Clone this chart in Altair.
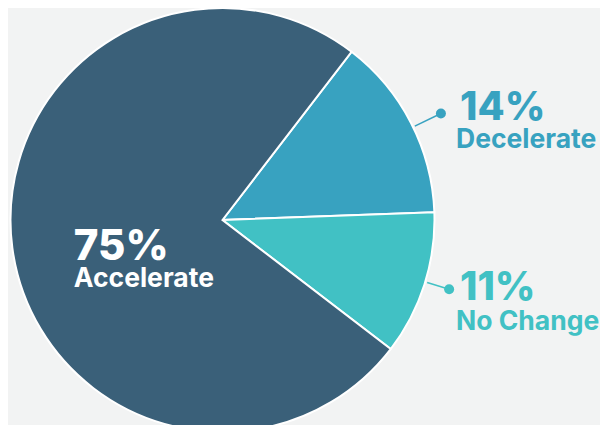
import math
import altair as alt
import pandas as pd

# ---- data ----
categories = ["Decelerate", "No Change", "Accelerate"]
values = [14, 11, 75]
pct_labels = ["14%", "11%", "75%"]
colors = ["#38a2c0", "#41c1c4", "#3a6079"]

# ---- geometry (chart-pixel space) ----
W, H = 592, 417
CX, CY, R = 214.5, 212, 212
START_DEG = 37.5
start = math.radians(START_DEG)

def polar(angle_deg, r):
    a = math.radians(angle_deg)
    return CX + r * math.sin(a), CY - r * math.cos(a)

total = sum(values)
cum = 0
mids = []
for v in values:
    mids.append(START_DEG + (cum + v / 2) / total * 360)
    cum += v

pie_df = pd.DataFrame({"cat": categories, "value": values, "ord": list(range(len(values)))})

xs = alt.Scale(domain=[0, W], range=[0, W])
ys = alt.Scale(domain=[0, H], range=[0, H])

pie = alt.Chart(pie_df).mark_arc(radius=R, stroke="white", strokeWidth=2).encode(
    theta=alt.Theta("value:Q", stack=True, scale=alt.Scale(range=[start, start + 2 * math.pi])),
    order=alt.Order("ord:Q"),
    color=alt.Color("cat:N", scale=alt.Scale(domain=categories, range=colors), legend=None),
    x=alt.value(CX),
    y=alt.value(CY),
)

# outside labels (small slices)
lead_rows, dot_rows, pct_rows, name_rows = [], [], [], []
dot_r = {"Decelerate": 243, "No Change": 237}
ang_off = {"Decelerate": 1.3, "No Change": -0.7}
lab_dy = {"Decelerate": 0, "No Change": 4}
for cat, lab, col, mid in zip(categories, pct_labels, colors, mids):
    if cat == "Accelerate":
        ax, ay = polar(mid, 150)
        pct_rows.append({"x": ax, "y": ay + 20, "t": lab, "c": "#ffffff", "s": 42})
        name_rows.append({"x": ax, "y": ay + 47.5, "t": cat, "c": "#ffffff", "s": 26.5})
        continue
    a = mid + ang_off[cat]
    x0, y0 = polar(a, 214)
    x1, y1 = polar(a, dot_r[cat])
    lead_rows.append({"x": x0, "y": y0, "x2": x1, "y2": y1, "c": col})
    dot_rows.append({"x": x1, "y": y1, "c": col})
    pct_rows.append({"x": 452, "y": y1 + 6.5 + lab_dy[cat], "t": lab, "c": col, "s": 39.5})
    name_rows.append({"x": 448, "y": y1 + 35 + lab_dy[cat] * 1.5, "t": cat, "c": col, "s": 26.5})

lead = alt.Chart(pd.DataFrame(lead_rows)).mark_rule(strokeWidth=1.5).encode(
    x=alt.X("x:Q", scale=xs, axis=None),
    y=alt.Y("y:Q", scale=ys, axis=None),
    x2="x2:Q",
    y2="y2:Q",
    color=alt.Color("c:N", scale=None),
)

dots = alt.Chart(pd.DataFrame(dot_rows)).mark_circle(size=100, opacity=1).encode(
    x=alt.X("x:Q", scale=xs, axis=None),
    y=alt.Y("y:Q", scale=ys, axis=None),
    color=alt.Color("c:N", scale=None),
)

pct = alt.Chart(pd.DataFrame(pct_rows)).mark_text(
    align="left", baseline="alphabetic", font="Inter", fontWeight=800
).encode(
    x=alt.X("x:Q", scale=xs, axis=None),
    y=alt.Y("y:Q", scale=ys, axis=None),
    text="t:N",
    color=alt.Color("c:N", scale=None),
    size=alt.Size("s:Q", scale=None),
)

names = alt.Chart(pd.DataFrame(name_rows)).mark_text(
    align="left", baseline="alphabetic", font="Inter", fontWeight=700
).encode(
    x=alt.X("x:Q", scale=xs, axis=None),
    y=alt.Y("y:Q", scale=ys, axis=None),
    text="t:N",
    color=alt.Color("c:N", scale=None),
    size=alt.Size("s:Q", scale=None),
)

chart = alt.layer(pie, lead, dots, pct, names).properties(
    width=W, height=H, background="#f2f3f3", padding=0,
    autosize=alt.AutoSizeParams(type="none"),
).configure_view(stroke=None)

chart.save("out.html", embed_options={"renderer": "svg", "actions": False})
